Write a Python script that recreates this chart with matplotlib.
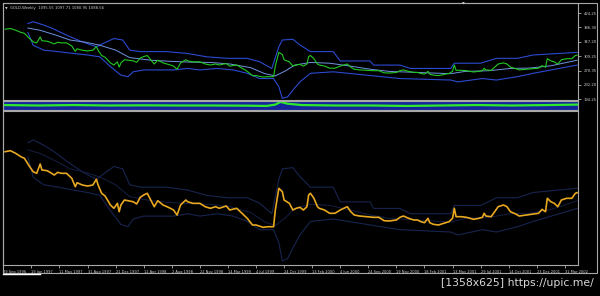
import matplotlib
matplotlib.use("Agg")
import matplotlib.pyplot as plt
from matplotlib.patches import Rectangle
from matplotlib.lines import Line2D

# prix hebdo de l'or (semaine -> cours)
weeks = [1, 4, 7, 10, 12, 15, 17, 19, 21, 22, 25, 27, 29, 31, 33, 36, 39, 41, 42, 45,
         48, 51, 53, 54, 56, 58, 61, 63, 65, 66, 67, 69, 71, 74, 76, 78, 80, 82, 84, 86,
         88, 91, 94, 97, 99, 101, 104, 105, 108, 112, 115, 118, 121, 123, 127, 129, 133, 136, 139, 142,
         144, 148, 151, 154, 155, 157, 159, 160, 163, 165, 167, 169, 171, 173, 174, 175, 177, 179, 180, 183,
         186, 189, 192, 194, 196, 198, 200, 203, 207, 211, 214, 217, 220, 224, 226, 228, 231, 234, 236, 238,
         240, 242, 243, 245, 248, 251, 254, 256, 257, 258, 261, 264, 268, 271, 273, 274, 275, 278, 280, 282,
         285, 287, 289, 292, 294, 298, 302, 305, 307, 309, 310, 312, 314, 316, 318, 321, 324, 326, 327]
price = [381.0, 382.7, 378.3, 372.5, 369.8, 355.6, 347.1, 344.4, 360.2, 350.0, 348.8, 345.4, 341.5, 346.1, 344.4, 344.4, 336.0, 321.7, 328.5, 324.6,
         322.9, 324.6, 334.3, 324.6, 310.6, 305.9, 290.8, 285.2, 293.6, 279.4, 290.8, 299.2, 298.1, 296.3, 292.5, 303.8, 307.7, 310.6, 299.2, 287.9,
         298.1, 290.8, 286.9, 282.3, 273.8, 290.8, 299.2, 296.3, 293.6, 293.6, 287.9, 285.2, 287.9, 285.2, 289.1, 282.3, 285.2, 276.7, 268.2, 256.9,
         256.9, 253.0, 254.0, 254.0, 282.3, 319.0, 313.3, 299.2, 293.6, 282.3, 285.2, 286.9, 282.3, 287.9, 307.7, 310.6, 302.1, 287.9, 285.2, 282.3,
         276.7, 276.7, 282.3, 285.2, 287.9, 279.4, 273.8, 272.1, 271.0, 269.9, 269.9, 264.2, 263.7, 265.4, 269.9, 272.1, 268.2, 265.4, 265.4, 262.5,
         260.8, 268.2, 260.8, 258.1, 256.9, 259.8, 262.5, 268.2, 285.2, 271.0, 271.0, 269.9, 266.5, 268.2, 269.9, 276.7, 272.1, 271.0, 279.4, 287.9,
         290.8, 287.9, 279.4, 275.5, 272.1, 273.8, 275.5, 276.7, 283.4, 279.4, 302.1, 296.3, 293.6, 287.9, 299.2, 302.1, 302.1, 310.6, 311.6]

# bandes (enveloppes)
up_weeks = [14, 17, 23, 28, 36, 45, 53, 57, 63, 68, 72, 78, 93, 105, 116, 128, 139, 146, 153, 157,
            159, 165, 169, 175, 188, 192, 209, 211, 226, 232, 255, 257, 272, 281, 293, 302, 327]
upper = [396, 401, 392, 383, 365, 347, 334, 343, 356, 352, 325, 321, 321, 316, 307, 303, 303, 294, 276, 334,
         352, 354, 339, 321, 321, 296, 296, 285, 285, 276, 276, 290, 290, 303, 303, 312, 319]
lo_weeks = [14, 17, 23, 31, 40, 48, 55, 61, 67, 71, 74, 80, 97, 105, 112, 122, 131, 139, 146, 154,
            157, 159, 162, 165, 169, 175, 188, 207, 226, 255, 259, 273, 281, 293, 302, 327]
lower = [372, 338, 325, 321, 316, 312, 307, 281, 258, 254, 267, 272, 272, 276, 272, 276, 272, 263, 249, 249,
         227, 196, 200, 218, 240, 263, 267, 258, 249, 245, 240, 249, 245, 254, 263, 285]
mid_weeks = [14, 21, 30, 38, 47, 55, 64, 72, 84, 95, 106, 118, 129, 141, 149, 155, 161, 166, 175, 186,
             198, 209, 220, 232, 243, 255, 263, 277, 289, 300, 312, 327]
middle = [384, 378, 365, 352, 346, 338, 325, 305, 298, 295, 293, 292, 288, 278, 262, 256, 270, 285, 292, 290,
          282, 274, 268, 266, 264, 262, 268, 270, 276, 277, 283, 298]

# petit indicateur sous la fenetre principale
strip_weeks = [0, 20, 40, 60, 80, 100, 120, 140, 150, 155, 158, 162, 170, 190, 210, 230, 250, 270, 290, 310, 327]
strip_vals = [0.55, 0.5, 0.55, 0.5, 0.52, 0.5, 0.5, 0.48, 0.45, 0.6, 0.9, 0.7, 0.55, 0.5, 0.5, 0.45, 0.5, 0.55, 0.5, 0.55, 0.6]

price_ticks = [424.25, 386.30, 347.20, 309.25, 270.35, 232.20, 194.25]
date_labels = ["29 Sep 1996", "19 Jan 1997", "11 May 1997", "31 Aug 1997", "21 Dec 1997", "12 Apr 1998",
               "2 Aug 1998", "22 Nov 1998", "14 Mar 1999", "4 Jul 1999", "24 Oct 1999", "13 Feb 2000",
               "4 Jun 2000", "24 Sep 2000", "19 Nov 2000", "18 Feb 2001", "13 May 2001", "29 Jul 2001",
               "14 Oct 2001", "23 Dec 2001", "31 Mar 2002"]
date_pos = [16 * i for i in range(len(date_labels))]

W, H = 600, 296
GRIS = "#a8a8a8"
TXT = "#d0d0d0"

fig = plt.figure(figsize=(W / 100, H / 100), dpi=100, facecolor="black")


def px_axes(x0, y0, x1, y1):
    ax = fig.add_axes([x0 / W, 1 - y1 / H, (x1 - x0) / W, (y1 - y0) / H])
    ax.set_facecolor("black")
    for s in ax.spines.values():
        s.set_color(GRIS)
        s.set_linewidth(0.8)
    ax.set_xlim(-0.2, 327.5)
    return ax


# fenetre principale
ax1 = px_axes(3, 3, 578, 100)
ax1.plot(up_weeks, upper, color="#2c4ad0", lw=0.8)
ax1.plot(lo_weeks, lower, color="#2c4ad0", lw=0.8)
ax1.plot(mid_weeks, middle, color="#6f93e0", lw=0.7)
ax1.plot(weeks, price, color="#22c822", lw=0.8)
ax1.set_ylim(191.6, 451)
ax1.yaxis.tick_right()
ax1.set_yticks(price_ticks)
ax1.set_yticklabels(["%.2f" % v for v in price_ticks])
ax1.tick_params(axis="y", colors=TXT, labelsize=2.7, length=2, width=0.5, pad=2)
ax1.set_xticks([])
ax1.text(0.004, 0.965, "\u25bc", transform=ax1.transAxes, color=TXT, fontsize=2.5, va="top")
ax1.text(0.013, 0.97, "GOLD,Weekly  1095.55 1097.71 1080.95 1088.56", transform=ax1.transAxes,
         color=TXT, fontsize=2.7, va="top")

# bande indicateur
ax2 = px_axes(3, 101, 578, 110)
ax2.fill_between([-0.2, 327.5], 0.15, 0.85, color="#14269a")
ax2.plot(strip_weeks, strip_vals, color="#2ee82e", lw=1.6)
ax2.set_ylim(0, 1)
ax2.set_xticks([])
ax2.set_yticks([])

# fenetre du bas
ax3 = px_axes(3, 111, 578, 265)
ax3.plot(up_weeks, upper, color="#18244e", lw=0.8)
ax3.plot(lo_weeks, lower, color="#18244e", lw=0.8)
ax3.plot(mid_weeks, middle, color="#151f44", lw=0.7)
ax3.plot(weeks, price, color="#e8a820", lw=1.2)
ax3.set_ylim(189.2, 449.9)
ax3.set_yticks([])
ax3.set_xticks(date_pos)
ax3.set_xticklabels(date_labels, ha="left")
ax3.tick_params(axis="x", colors=TXT, labelsize=2.6, length=2, width=0.5, pad=1.5)

# cadre exterieur
fig.add_artist(Rectangle((3 / W, 1 - 273 / H), 594 / W, 270 / H, transform=fig.transFigure,
                         fill=False, edgecolor=GRIS, lw=0.8))
fig.add_artist(Line2D([3 / W, 40 / W], [1 - 274 / H, 1 - 274 / H], transform=fig.transFigure,
                      color="white", lw=1.0))
fig.text(463 / W, 1 - 4 / H, "\u25bc", color=TXT, fontsize=2.5, ha="center", va="center")

fig.text(594 / W, 1 - 283 / H, "[1358x625] https://upic.me/", color="#d8d8d8", fontsize=7.8,
         ha="right", va="center")

fig.savefig("out.png", dpi=100, facecolor="black")
